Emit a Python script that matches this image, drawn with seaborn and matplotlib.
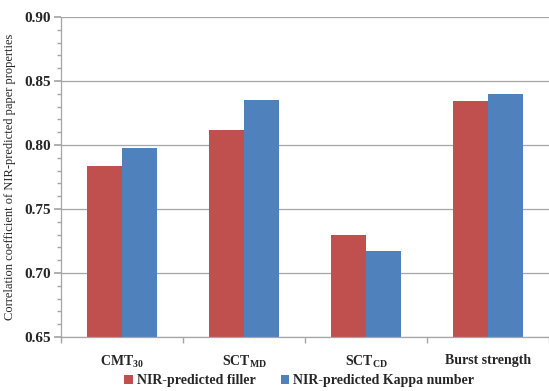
import matplotlib
matplotlib.use("Agg")
import matplotlib.pyplot as plt
import seaborn as sns
import pandas as pd
from matplotlib.ticker import MultipleLocator, FixedLocator
from matplotlib.patches import Patch

categories = [r"$\mathbf{CMT_{30}}$", r"$\mathbf{SCT_{MD}}$", r"$\mathbf{SCT_{CD}}$", "Burst strength"]
series = ["NIR-predicted filler", "NIR-predicted Kappa number"]
filler = [0.784, 0.812, 0.730, 0.834]
kappa = [0.798, 0.835, 0.717, 0.840]
colors = ["#C0504D", "#4F81BD"]

sns.set_theme(style="white")
plt.rcParams["font.family"] = ["Liberation Serif", "DejaVu Serif"]
plt.rcParams["mathtext.fontset"] = "custom"
plt.rcParams["mathtext.rm"] = "Liberation Serif"
plt.rcParams["mathtext.bf"] = "Liberation Serif:bold"

df = pd.DataFrame({
    "cat": categories * 2,
    "series": [series[0]] * 4 + [series[1]] * 4,
    "value": filler + kappa,
})

fig = plt.figure(figsize=(5.49, 3.91), dpi=100)
ax = fig.add_axes([0.111, 0.138, 0.889, 0.8185])
sns.barplot(data=df, x="cat", y="value", hue="series", palette=colors,
            width=0.57, gap=0, ax=ax, legend=False, saturation=1, linewidth=0)

ax.set_ylim(0.65, 0.90)
ax.set_xlim(-0.5, 3.5)
ax.yaxis.set_major_locator(MultipleLocator(0.05))
ax.yaxis.set_minor_locator(MultipleLocator(0.01))
ax.set_yticklabels([f"{v:.2f}" for v in ax.get_yticks()], fontweight="bold", fontsize=11)
ax.grid(axis="y", which="major", color="#A6A6A6", linewidth=0.9)
ax.set_axisbelow(True)
for s in ["top", "right"]:
    ax.spines[s].set_visible(False)
for s in ["left", "bottom"]:
    ax.spines[s].set_color("#A6A6A6")
    ax.spines[s].set_linewidth(0.9)
ax.tick_params(axis="y", which="major", length=5, color="#A6A6A6", left=True, pad=2)
ax.tick_params(axis="y", which="minor", length=3, color="#A6A6A6", left=True)
ax.xaxis.set_minor_locator(FixedLocator([-0.5, 0.5, 1.5, 2.5, 3.5]))
ax.tick_params(axis="x", which="major", length=0, pad=12, labelsize=10)
ax.tick_params(axis="x", which="minor", length=4, color="#A6A6A6", bottom=True)
for lbl in ax.get_xticklabels():
    lbl.set_fontweight("bold")
ax.set_xlabel("")
ax.set_ylabel("Correlation coefficient of NIR-predicted paper properties", fontsize=9, labelpad=6)

handles = [Patch(facecolor=c, edgecolor="none") for c in colors]
leg = fig.legend(handles, series, loc="center", bbox_to_anchor=(0.545, 0.026), ncol=2,
                 frameon=False, prop={"weight": "bold", "size": 10, "family": "Liberation Serif"},
                 handlelength=0.6, handleheight=0.6, handletextpad=0.3, columnspacing=1.8)

fig.savefig("out.png", dpi=100)
